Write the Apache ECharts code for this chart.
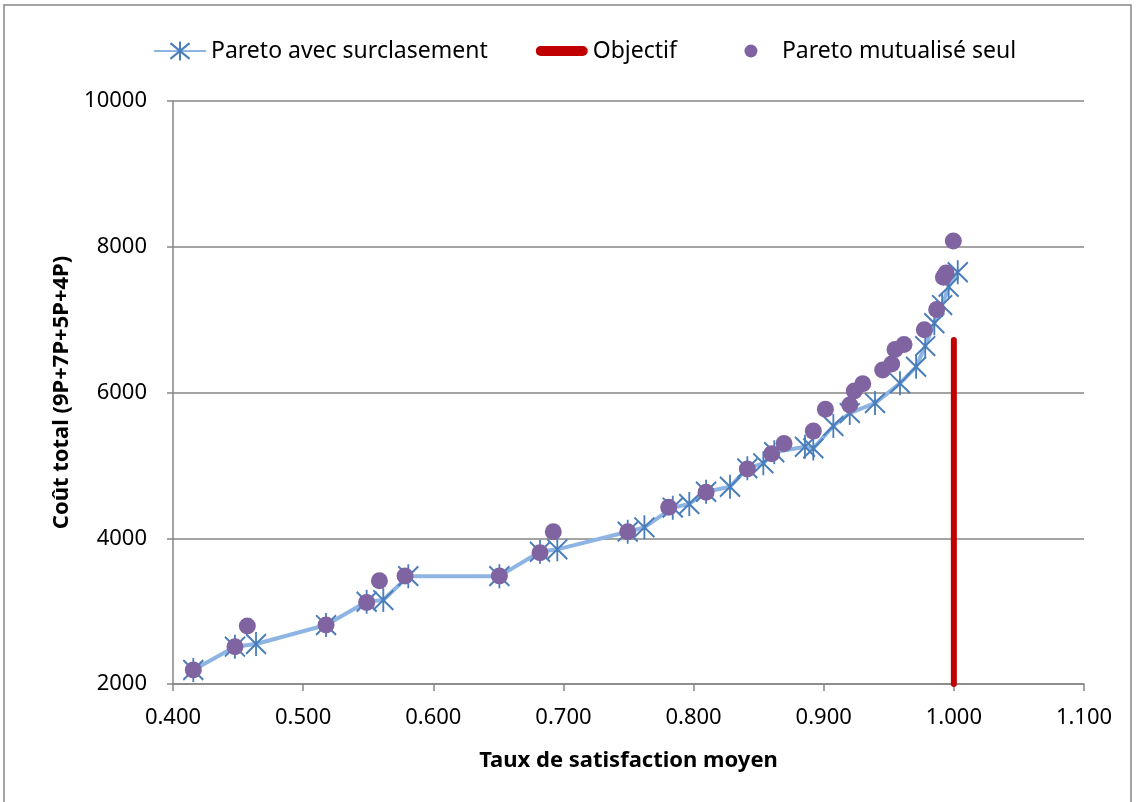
<!DOCTYPE html>
<html>
<head>
<meta charset="utf-8">
<script src="https://cdn.jsdelivr.net/npm/echarts@6/dist/echarts.min.js"></script>
<style>
html,body{margin:0;padding:0;background:#fff;}
#main{width:1136px;height:802px;}
</style>
</head>
<body>
<div id="main"></div>
<script>
// Pareto avec surclasement (stars + line)
const surclasX = [0.4156,0.4476,0.4638,0.5176,0.5488,0.5616,0.5808,0.6508,0.682,0.6953,0.7494,0.7622,0.784,0.7967,0.8096,0.828,0.8413,0.8536,0.862,0.8856,0.892,0.9074,0.92,0.9394,0.9586,0.971,0.978,0.985,0.991,0.996,1.003];
const surclasY = [2192,2512,2549,2809,3129,3152,3480,3480,3815,3848,4090,4150,4420,4470,4638,4707,4959,5028,5180,5256,5233,5540,5718,5855,6126,6353,6637,6950,7200,7450,7650];
// Pareto mutualisé seul (circles)
const mutuX = [0.4156,0.4476,0.4571,0.5176,0.5488,0.5586,0.5783,0.6508,0.682,0.6922,0.7494,0.7809,0.8096,0.8413,0.86,0.8695,0.892,0.9013,0.92,0.9235,0.93,0.9453,0.9522,0.9548,0.9617,0.9773,0.9868,0.992,0.994,0.9996];
const mutuY = [2192,2512,2796,2809,3120,3417,3482,3482,3801,4090,4090,4424,4630,4950,5160,5300,5470,5770,5830,6020,6120,6310,6390,6590,6660,6860,7140,7580,7640,8080];
// Objectif (vertical red line)
const objX = [1.0,1.0];
const objY = [2000,6720];
const xTicks = {min:0.4,max:1.1,interval:0.1};
const yTicks = {min:2000,max:10000,interval:2000};

const zip = (a,b) => a.map((v,i)=>[v,b[i]]);
const FONT = 'Noto Sans';
const chart = echarts.init(document.getElementById('main'));
const star = 'path://M0,-11L0,11M-9,-9L9,9M-9,9L9,-9';
const redBarIcon = 'path://M0,0M5,7L47,7A5,5,0,0,1,47,17L5,17A5,5,0,0,1,5,7ZM52,24';
const dotIcon = 'path://M0,0M19.5,12A6.5,6.5,0,1,1,32.5,12A6.5,6.5,0,1,1,19.5,12ZM52,24';
chart.setOption({
  animation:false,
  textStyle:{fontFamily:FONT,color:'#000'},
  graphic:[{type:'rect',shape:{x:4,y:5,width:1127,height:810},style:{fill:'none',stroke:'#868686',lineWidth:1.5},z:-1}],
  legend:{
    top:34,left:148,itemWidth:52,itemHeight:24,itemGap:48,
    textStyle:{fontSize:23,color:'#000',fontFamily:FONT},
    data:[
      {name:'Pareto avec surclasement'},
      {name:'Objectif',icon:redBarIcon,itemStyle:{color:'#C00000',borderWidth:0}},
      {name:'Pareto mutualisé seul',icon:dotIcon,itemStyle:{color:'#8064A2',borderWidth:0}}
    ]
  },
  grid:{left:173,right:52,top:101,bottom:118,containLabel:false},
  xAxis:{
    type:'value',min:xTicks.min,max:xTicks.max,interval:xTicks.interval,
    name:'Taux de satisfaction moyen',nameLocation:'middle',nameGap:66,
    nameTextStyle:{fontSize:22,fontWeight:'bold',color:'#000',fontFamily:FONT},
    axisLine:{show:true,lineStyle:{color:'#868686',width:1.5}},
    axisTick:{show:true,length:7,lineStyle:{color:'#868686',width:1.5}},
    axisLabel:{fontSize:22,color:'#000',margin:23,formatter:v=>v.toFixed(3)},
    splitLine:{show:false}
  },
  yAxis:{
    type:'value',min:yTicks.min,max:yTicks.max,interval:yTicks.interval,
    name:'Coût total (9P+7P+5P+4P)',nameLocation:'middle',nameGap:98,nameRotate:90,
    nameTextStyle:{fontSize:22,fontWeight:'bold',color:'#000',fontFamily:FONT},
    axisLine:{show:true,lineStyle:{color:'#868686',width:1.5}},
    axisTick:{show:true,length:6,lineStyle:{color:'#868686',width:1.5}},
    axisLabel:{fontSize:22,color:'#000',margin:26,formatter:v=>String(Math.round(v))},
    splitLine:{show:true,lineStyle:{color:'#868686',width:1.5}}
  },
  series:[
    {
      name:'Pareto avec surclasement',type:'line',data:zip(surclasX,surclasY),
      lineStyle:{color:'#8EB4E3',width:4},
      symbol:star,symbolSize:[20,24],
      itemStyle:{color:'#4A7EBB',borderColor:'#4A7EBB',borderWidth:2},
      z:2
    },
    {
      name:'Objectif',type:'line',data:zip(objX,objY),symbol:'none',
      lineStyle:{color:'#C00000',width:6,cap:'round'},
      itemStyle:{color:'#C00000'},z:3
    },
    {
      name:'Pareto mutualisé seul',type:'scatter',data:zip(mutuX,mutuY),
      symbol:'circle',symbolSize:17,
      itemStyle:{color:'#8064A2',opacity:1},z:4
    }
  ]
});
</script>
</body>
</html>
